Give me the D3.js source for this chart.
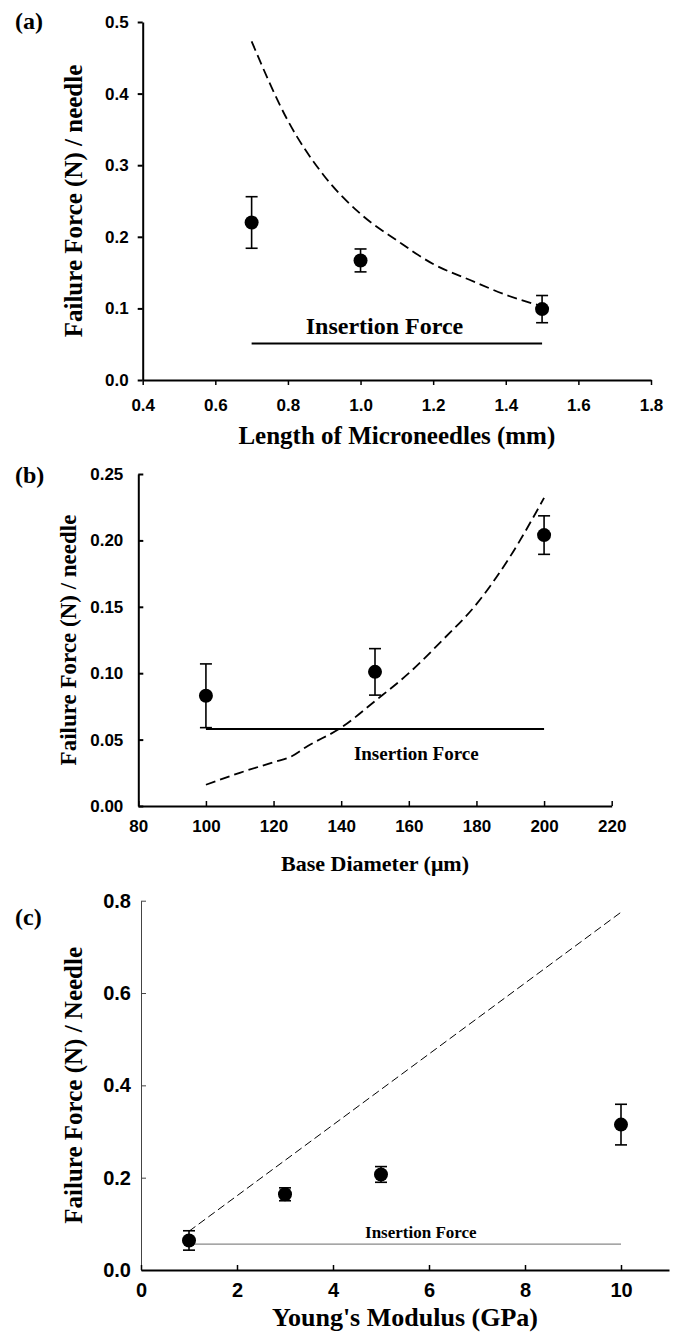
<!DOCTYPE html>
<html>
<head>
<meta charset="utf-8">
<script src="https://cdn.jsdelivr.net/npm/d3@7"></script>
<style>
  body { margin: 0; background: #fff; }
  .tick text { font-family: "Liberation Sans", Arial, sans-serif; font-weight: bold; }
  .title { font-family: "Liberation Serif", "Times New Roman", serif; font-weight: bold; }
</style>
</head>
<body>
<svg width="677" height="1334"></svg>
<script>
// (a) length of microneedles
var lengthX = [0.7, 1.0, 1.5];
var lengthForce = [0.220, 0.167, 0.099];
var lengthErr = [0.036, 0.016, 0.019];
var lengthModelX = [0.7, 0.8, 0.9, 1.0, 1.1, 1.2, 1.3, 1.4, 1.5];
var lengthModel = [0.473, 0.362, 0.285, 0.232, 0.195, 0.162, 0.140, 0.119, 0.103];
var lengthInsertion = 0.051;
var lengthXTicks = [0.4, 0.6, 0.8, 1.0, 1.2, 1.4, 1.6, 1.8];
var lengthYTicks = [0.0, 0.1, 0.2, 0.3, 0.4, 0.5];

// (b) base diameter
var diamX = [100, 150, 200];
var diamForce = [0.083, 0.101, 0.204];
var diamErr = [0.024, 0.0175, 0.0145];
var diamModelX = [100, 110, 120, 125, 130, 140, 150, 160, 170, 180, 190, 200];
var diamModel = [0.016, 0.025, 0.033, 0.037, 0.045, 0.059, 0.079, 0.100, 0.125, 0.152, 0.188, 0.232];
var diamInsertion = 0.058;
var diamXTicks = [80, 100, 120, 140, 160, 180, 200, 220];
var diamYTicks = [0.00, 0.05, 0.10, 0.15, 0.20, 0.25];

// (c) young's modulus
var modX = [1, 3, 5, 10];
var modForce = [0.064, 0.164, 0.207, 0.315];
var modErr = [0.021, 0.014, 0.017, 0.044];
var modModelX = [1, 10];
var modModel = [0.084, 0.775];
var modInsertion = 0.056;
var modXTicks = [0, 2, 4, 6, 8, 10];
var modYTicks = [0.0, 0.2, 0.4, 0.6, 0.8];

var svg = d3.select("svg");

function drawPanel(p) {
    var x = d3.scaleLinear().domain(p.xDomain).range(p.xRange);
    var y = d3.scaleLinear().domain(p.yDomain).range(p.yRange);
    var g = svg.append("g");

    // axes
    var yAxis = d3.axisLeft(y).tickValues(p.yTicks).tickFormat(d3.format(p.yFmt))
        .tickSizeInner(p.tick).tickSizeOuter(0).tickPadding(p.yPad);
    var yg = g.append("g").attr("transform", "translate(" + p.xRange[0] + ",0)").call(yAxis);
    yg.select(".domain").attr("stroke", p.yAxisColor).attr("stroke-width", p.yAxisWidth);
    yg.selectAll(".tick line").attr("stroke", p.yAxisColor).attr("stroke-width", p.yAxisWidth);
    yg.selectAll(".tick text").attr("font-size", p.tickFont).attr("fill", "#000");

    var xAxis = d3.axisBottom(x).tickValues(p.xTicks).tickFormat(d3.format(p.xFmt))
        .tickSizeInner(p.tick).tickSizeOuter(0).tickPadding(p.xPad);
    var xg = g.append("g").attr("transform", "translate(0," + p.yRange[0] + ")").call(xAxis);
    xg.select(".domain").attr("stroke-width", 2);
    xg.selectAll(".tick line").attr("stroke-width", 1.5);
    xg.selectAll(".tick text").attr("font-size", p.tickFont).attr("fill", "#000");

    // insertion force line
    g.append("line")
        .attr("x1", x(p.data.x[0])).attr("x2", x(p.data.x[p.data.x.length - 1]))
        .attr("y1", y(p.insertion)).attr("y2", y(p.insertion))
        .attr("stroke", p.insColor).attr("stroke-width", p.insWidth);
    g.append("text").attr("class", "title")
        .attr("x", x(p.insLabel[0])).attr("y", y(p.insLabel[1]))
        .attr("text-anchor", "middle").attr("font-size", p.insFont)
        .text("Insertion Force");

    // model (dashed)
    var line = d3.line().x(function (d) { return x(d[0]); }).y(function (d) { return y(d[1]); })
        .curve(d3.curveMonotoneX);
    g.append("path")
        .datum(d3.zip(p.modelX, p.model))
        .attr("d", line)
        .attr("fill", "none").attr("stroke", "#000")
        .attr("stroke-width", p.dashWidth).attr("stroke-dasharray", p.dash);

    // points with error bars
    var pts = d3.zip(p.data.x, p.data.y, p.data.e);
    var eb = g.selectAll(".err").data(pts).enter().append("g");
    eb.append("line")
        .attr("x1", function (d) { return x(d[0]); }).attr("x2", function (d) { return x(d[0]); })
        .attr("y1", function (d) { return y(d[1] - d[2]); }).attr("y2", function (d) { return y(d[1] + d[2]); })
        .attr("stroke", "#000").attr("stroke-width", 1.6);
    [-1, 1].forEach(function (s) {
        eb.append("line")
            .attr("x1", function (d) { return x(d[0]) - 6; }).attr("x2", function (d) { return x(d[0]) + 6; })
            .attr("y1", function (d) { return y(d[1] + s * d[2]); }).attr("y2", function (d) { return y(d[1] + s * d[2]); })
            .attr("stroke", "#000").attr("stroke-width", 1.6);
    });
    eb.append("circle")
        .attr("cx", function (d) { return x(d[0]); }).attr("cy", function (d) { return y(d[1]); })
        .attr("r", 7).attr("fill", "#000");

    // titles
    g.append("text").attr("class", "title")
        .attr("x", (p.xRange[0] + p.xRange[1]) / 2).attr("y", p.xTitleY)
        .attr("text-anchor", "middle").attr("font-size", p.xTitleFont)
        .text(p.xTitle);
    g.append("text").attr("class", "title")
        .attr("transform", "translate(" + p.yTitleX + "," + (p.yRange[0] + p.yRange[1]) / 2 + ") rotate(-90)")
        .attr("text-anchor", "middle").attr("font-size", p.yTitleFont)
        .text(p.yTitle);
    g.append("text").attr("class", "title")
        .attr("x", 15).attr("y", p.tagY).attr("font-size", 24)
        .text(p.tag);
}

drawPanel({
    tag: "(a)", tagY: 29,
    xDomain: [0.4, 1.8], xRange: [142.7, 651], yDomain: [0, 0.5], yRange: [380, 22],
    xTicks: lengthXTicks, yTicks: lengthYTicks, xFmt: ".1f", yFmt: ".1f",
    tick: 5, xPad: 14, yPad: 9, tickFont: 17,
    yAxisColor: "#000", yAxisWidth: 2,
    data: { x: lengthX, y: lengthForce, e: lengthErr },
    modelX: lengthModelX, model: lengthModel, dash: "10,5", dashWidth: 1.8,
    insertion: lengthInsertion, insColor: "#000", insWidth: 2, insLabel: [1.066, 0.064], insFont: 24,
    xTitle: "Length of Microneedles (mm)", xTitleY: 444, xTitleFont: 25,
    yTitle: "Failure Force (N) / needle", yTitleX: 82, yTitleFont: 25
});

drawPanel({
    tag: "(b)", tagY: 483,
    xDomain: [80, 220], xRange: [138.3, 611.7], yDomain: [0, 0.25], yRange: [806, 474],
    xTicks: diamXTicks, yTicks: diamYTicks, xFmt: "d", yFmt: ".2f",
    tick: -5, xPad: 14, yPad: 15, tickFont: 17,
    yAxisColor: "#000", yAxisWidth: 2,
    data: { x: diamX, y: diamForce, e: diamErr },
    modelX: diamModelX, model: diamModel, dash: "10,5", dashWidth: 1.8,
    insertion: diamInsertion, insColor: "#000", insWidth: 2, insLabel: [162.2, 0.035], insFont: 19,
    xTitle: "Base Diameter (\u03bcm)", xTitleY: 871, xTitleFont: 22,
    yTitle: "Failure Force (N) / needle", yTitleX: 76, yTitleFont: 23
});

drawPanel({
    tag: "(c)", tagY: 925,
    xDomain: [0, 11], xRange: [141, 669], yDomain: [0, 0.8], yRange: [1270, 900.7],
    xTicks: modXTicks, yTicks: modYTicks, xFmt: "d", yFmt: ".1f",
    tick: -5, xPad: 13, yPad: 10, tickFont: 20,
    yAxisColor: "#444", yAxisWidth: 1,
    data: { x: modX, y: modForce, e: modErr },
    modelX: modModelX, model: modModel, dash: "8,4", dashWidth: 1,
    insertion: modInsertion, insColor: "#888", insWidth: 1.2, insLabel: [5.83, 0.070], insFont: 17,
    xTitle: "Young's Modulus (GPa)", xTitleY: 1326, xTitleFont: 26,
    yTitle: "Failure Force (N) / Needle", yTitleX: 82, yTitleFont: 25
});
</script>
</body>
</html>
